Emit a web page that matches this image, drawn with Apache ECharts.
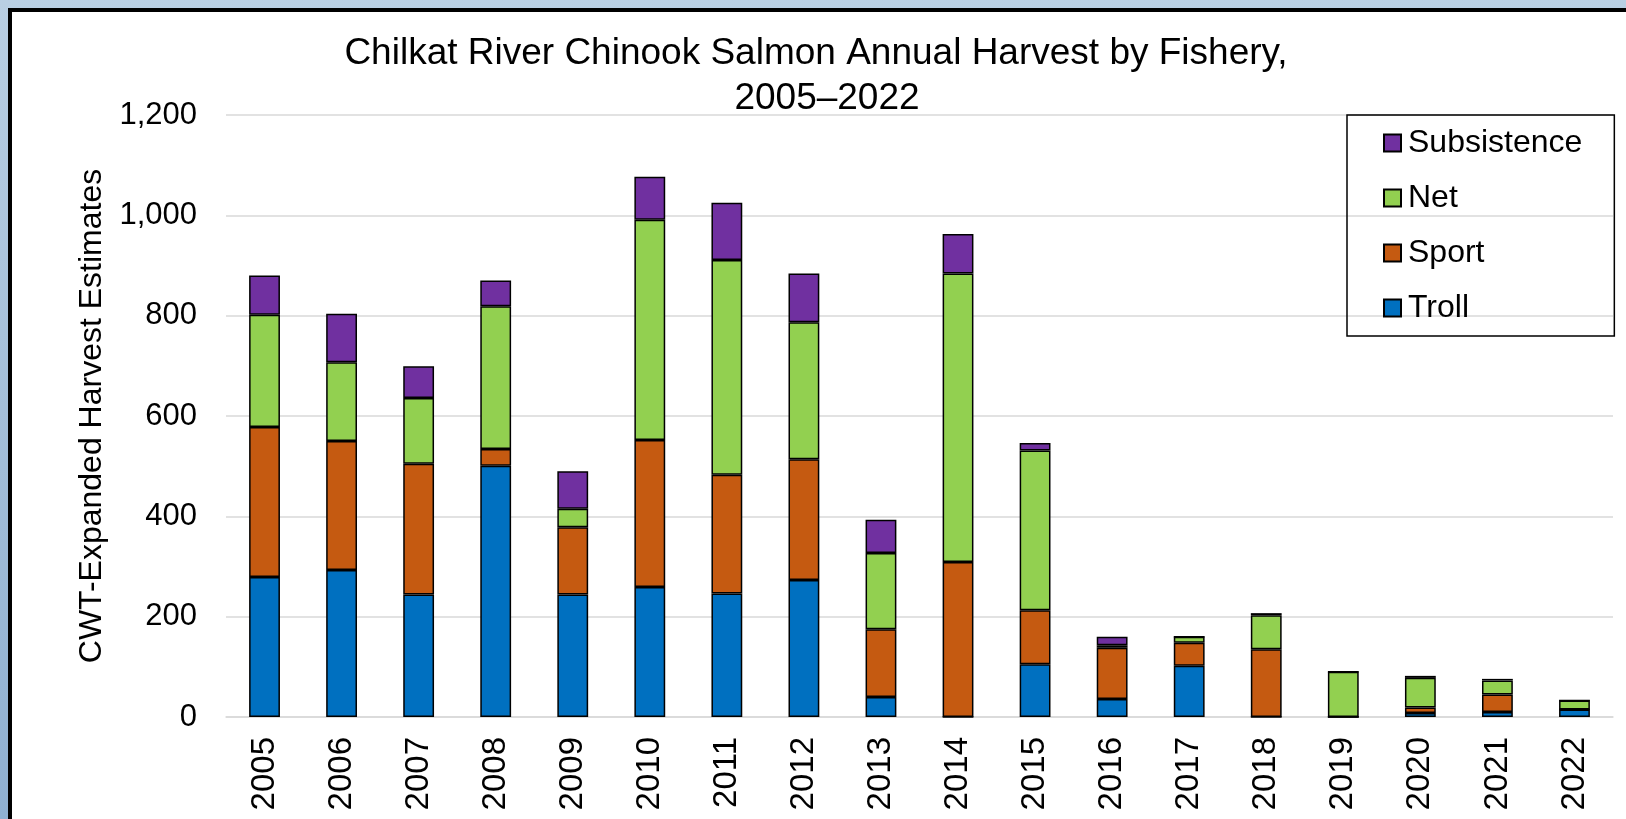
<!DOCTYPE html>
<html>
<head>
<meta charset="utf-8">
<script src="https://cdn.jsdelivr.net/npm/echarts@6/dist/echarts.min.js"></script>
<style>
  html, body { margin: 0; padding: 0; width: 1626px; height: 819px; overflow: hidden; }
  body { background: linear-gradient(180deg, #b9cfe3 0%, #a4bfd9 50%, #8fb0d1 100%); position: relative; }
  #frame { position: absolute; left: 8px; top: 8px; width: 1640px; height: 840px; background: #fff; border: 4px solid #000; box-sizing: border-box; }
  #chart { position: absolute; left: 0; top: 0; width: 1626px; height: 819px; }
</style>
</head>
<body>
<div id="frame"></div>
<div id="chart"></div>
<script>
const years = ['2005','2006','2007','2008','2009','2010','2011','2012','2013','2014','2015','2016','2017','2018','2019','2020','2021','2022'];
const troll       = [279, 293, 244, 501, 244, 259, 246, 273, 40,   0, 105, 36, 102,   0,  0,  8, 10, 15];
const sport       = [299, 257, 261,  33, 134, 293, 237, 241, 135, 309, 108, 102, 46, 135,  0, 11, 35,  0];
const net         = [224, 157, 131, 285,  37, 439, 428, 273, 152, 575, 318,  5, 12,  68, 90, 59, 28, 18];
const subsistence = [ 78,  97,  63,  51,  75,  86, 114,  97,  66,  79,  15, 17,  0,   4,  0,  4,  3,  0];
const yTicks = [0, 200, 400, 600, 800, 1000, 1200];
const titleLines = ['Chilkat River Chinook Salmon Annual Harvest by Fishery,', '2005–2022'];

const FONT = '"Liberation Sans", Arial, sans-serif';
const chart = echarts.init(document.getElementById('chart'), null, { renderer: 'canvas' });

function mk(name, data, color) {
  return {
    name: name, type: 'bar', stack: 'total', data: data, barWidth: '40%',
    itemStyle: { color: color, borderColor: '#000', borderWidth: 1.5 },
    emphasis: { disabled: true }
  };
}
const titleStyle = { fontFamily: FONT, fontSize: 37, fontWeight: 'normal', color: '#000', lineHeight: 43 };

chart.setOption({
  animation: false,
  backgroundColor: 'transparent',
  textStyle: { fontFamily: FONT },
  title: [
    { text: titleLines[0], left: 816, top: 32, textAlign: 'center', padding: 0, textStyle: titleStyle },
    { text: titleLines[1], left: 827, top: 77, textAlign: 'center', padding: 0, textStyle: titleStyle }
  ],
  legend: {
    orient: 'vertical', left: 1347, top: 115,
    data: ['Subsistence', 'Net', 'Sport', 'Troll'],
    borderColor: '#000', borderWidth: 1.5,
    padding: [12, 32, 12, 36],
    itemWidth: 17, itemHeight: 17, itemGap: 23,
    textStyle: { fontFamily: FONT, fontSize: 32, color: '#000', padding: [0, 0, 0, 2] },
    icon: 'rect', selectedMode: false
  },
  grid: { left: 226, right: 13, top: 115, bottom: 102 },
  xAxis: {
    type: 'category', data: years,
    axisLine: { show: true, lineStyle: { color: '#d9d9d9', width: 1.5 } },
    axisTick: { show: false },
    axisLabel: { rotate: 90, margin: 20, fontFamily: FONT, fontSize: 33, color: '#000' }
  },
  yAxis: {
    type: 'value', min: yTicks[0], max: yTicks[yTicks.length - 1], interval: 200,
    name: 'CWT-Expanded Harvest Estimates', nameLocation: 'middle', nameGap: 114,
    nameTextStyle: { fontFamily: FONT, fontSize: 32, color: '#000' },
    axisLine: { show: false }, axisTick: { show: false },
    splitLine: { lineStyle: { color: '#d9d9d9', width: 1.5 } },
    axisLabel: {
      margin: 29, fontFamily: FONT, fontSize: 31, color: '#000',
      formatter: function (v) { return v.toLocaleString('en-US'); }
    }
  },
  series: [
    mk('Troll', troll, '#0070c0'),
    mk('Sport', sport, '#c55a11'),
    mk('Net', net, '#92d050'),
    mk('Subsistence', subsistence, '#7030a0')
  ]
});
</script>
</body>
</html>
